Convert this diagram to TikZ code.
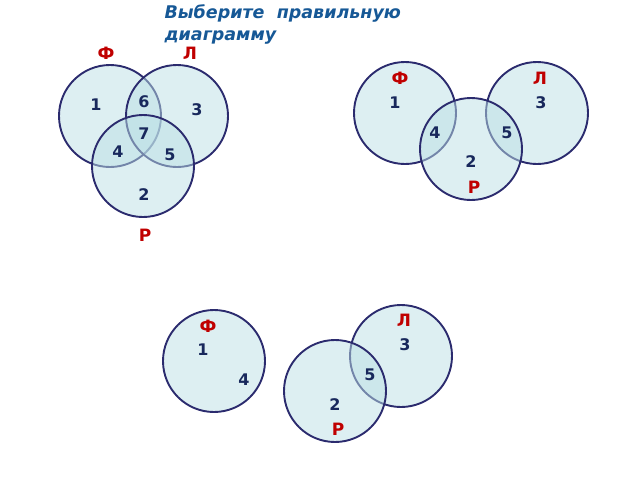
\documentclass[tikz,border=0pt]{standalone}
\usepackage{fontspec}
\setmainfont{DejaVu Sans}
\usepackage{xcolor}
\usetikzlibrary{positioning}

\definecolor{setfill}{RGB}{187,223,229}
\definecolor{setline}{RGB}{43,43,110}
\definecolor{numcol}{RGB}{24,40,92}
\definecolor{labcol}{RGB}{192,0,0}
\definecolor{titlecol}{RGB}{22,88,150}

\begin{document}
\begin{tikzpicture}[x=1pt, y=-1pt,
    set/.style={fill=setfill, fill opacity=0.5, draw=setline, line width=1.9pt},
    num/.style={text=numcol, font=\bfseries\fontsize{16}{16}\selectfont},
    lab/.style={text=labcol, font=\bfseries\fontsize{17}{17}\selectfont}]

        \useasboundingbox (0,0) rectangle (640,480);

        \def\setR{51pt}

        % title
        \node[anchor=north west, align=left, text=titlecol, font=\bfseries\itshape\fontsize{17.5}{22}\selectfont] (title) at (161,1) {Выберите\ \ правильную\\диаграмму};

        % first variant
        \begin{scope}
            \draw[set] (110,116) circle[radius=\setR];
            \draw[set] (177,116) circle[radius=\setR];
            \draw[set] (143,166) circle[radius=\setR];

            \node[lab] (fA) at (106,53) {Ф};
            \node[lab] (lA) at (190,53) {Л};
            \node[lab] (rA) at (145,235) {Р};

            \node[num] (a1) at (96,105) {1};
            \node[num] (a6) at (144,102) {6};
            \node[num] (a3) at (197,110) {3};
            \node[num] (a7) at (144,134) {7};
            \node[num] (a4) at (118,152) {4};
            \node[num] (a5) at (170,155) {5};
            \node[num] (a2) at (144,195) {2};
        \end{scope}

        % second variant
        \begin{scope}
            \draw[set] (405,113) circle[radius=\setR];
            \draw[set] (537,113) circle[radius=\setR];
            \draw[set] (471,149) circle[radius=\setR];

            \node[lab] (fB) at (400,78) {Ф};
            \node[lab] (lB) at (540,78) {Л};
            \node[lab] (rB) at (474,187) {Р};

            \node[num] (b1) at (395,103) {1};
            \node[num] (b3) at (541,103) {3};
            \node[num] (b4) at (435,133) {4};
            \node[num] (b5) at (507,133) {5};
            \node[num] (b2) at (471,162) {2};
        \end{scope}

        % third variant
        \begin{scope}
            \draw[set] (214,361) circle[radius=\setR];
            \draw[set] (401,356) circle[radius=\setR];
            \draw[set] (335,391) circle[radius=\setR];

            \node[lab] (fC) at (208,326) {Ф};
            \node[lab] (lC) at (404,320) {Л};
            \node[lab] (rC) at (338,429) {Р};

            \node[num] (c1) at (203,350) {1};
            \node[num] (c4) at (244,380) {4};
            \node[num] (c3) at (405,345) {3};
            \node[num] (c5) at (370,375) {5};
            \node[num] (c2) at (335,405) {2};
        \end{scope}
\end{tikzpicture}
\end{document}
